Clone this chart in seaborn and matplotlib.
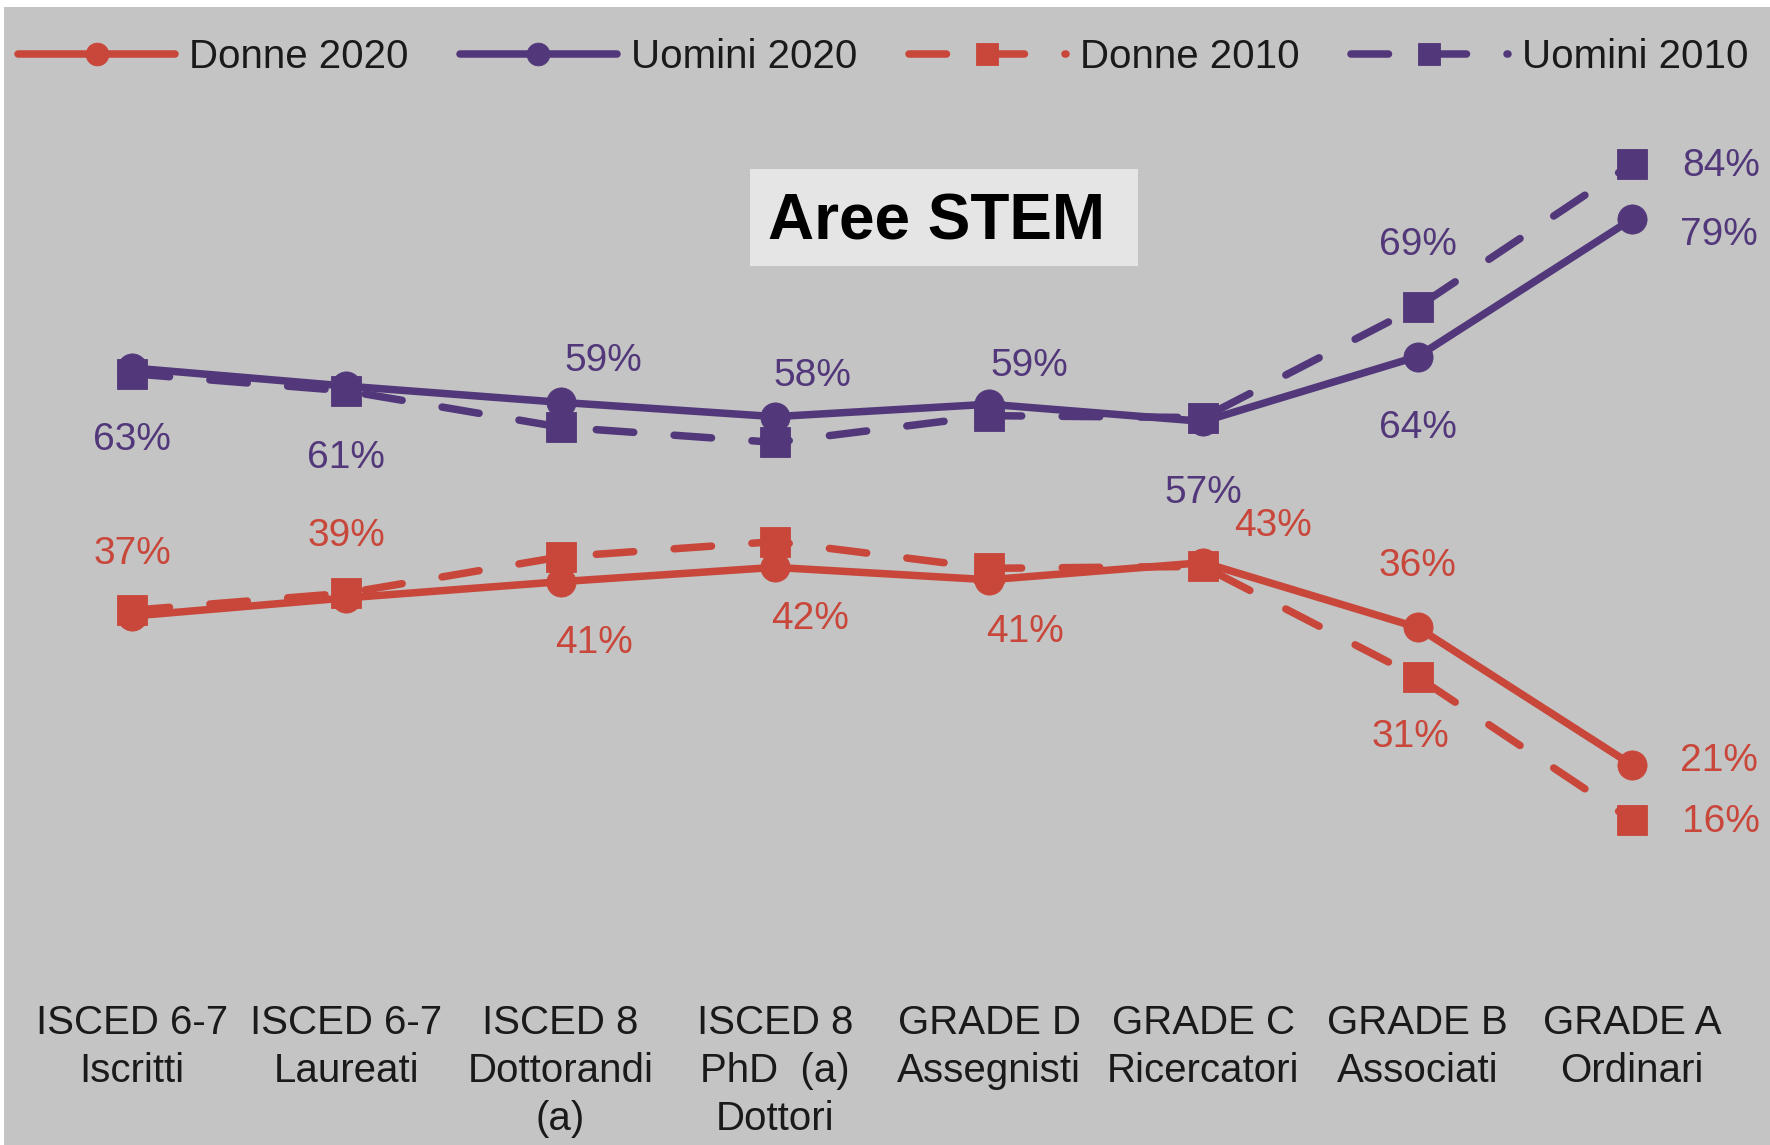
import numpy as np
import pandas as pd
import matplotlib
matplotlib.use("Agg")
import matplotlib.pyplot as plt
from matplotlib.patches import Rectangle
import seaborn as sns

# categorie (asse x) e quote percentuali per genere, area STEM
categories = ["ISCED 6-7\nIscritti", "ISCED 6-7\nLaureati", "ISCED 8\nDottorandi\n(a)",
              "ISCED 8\nPhD  (a)\nDottori", "GRADE D\nAssegnisti", "GRADE C\nRicercatori",
              "GRADE B\nAssociati", "GRADE A\nOrdinari"]
donne_2020 = [37.0, 38.9, 40.6, 42.1, 40.8, 42.6, 35.8, 21.4]
uomini_2020 = [63.0, 61.1, 59.4, 57.9, 59.2, 57.4, 64.2, 78.6]
donne_2010 = [37.6, 39.4, 43.2, 44.8, 42.0, 42.2, 30.6, 15.6]
uomini_2010 = [62.4, 60.6, 56.8, 55.2, 58.0, 57.8, 69.4, 84.4]

RED = "#c9463a"
PURPLE = "#52377a"
BG = "#c3c4c3"
TXT = "#1a1a1a"

sns.set_theme(style="white", rc={"axes.facecolor": BG, "figure.facecolor": BG})
plt.rcParams["font.family"] = ["Liberation Sans", "DejaVu Sans"]

W, H = 1770, 1145
fig = plt.figure(figsize=(W / 100, H / 100), dpi=100)
ax = fig.add_axes([25 / W, 1 - 969 / H, 1714 / W, 954 / H])

x = np.arange(len(categories))
series = [
    ("Donne 2020", donne_2020, RED, "-", "o"),
    ("Uomini 2020", uomini_2020, PURPLE, "-", "o"),
    ("Donne 2010", donne_2010, RED, (0, (5, 5.4)), "s"),
    ("Uomini 2010", uomini_2010, PURPLE, (0, (5, 5.4)), "s"),
]
for name, vals, col, ls, mk in series:
    df = pd.DataFrame({"x": x, "v": vals})
    sns.lineplot(data=df, x="x", y="v", ax=ax, color=col, linestyle=ls, marker=mk,
                 markersize=21, markeredgewidth=0.6, markeredgecolor=col,
                 linewidth=5.4, dash_capstyle="round", solid_capstyle="round",
                 label=name)

# etichette: offset (punti) rispetto al marcatore, None = nessuna etichetta
label_offsets = {
    "Donne 2020": [(0, 46), (0, 46), (24, -43), (25, -36), (26, -36), (50, 28), (0, 46), (63, 4)],
    "Uomini 2020": [(0, -50), (0, -50), (31, 31), (27, 31), (29, 29), (0, -50), (0, -50), (63, -10)],
    "Donne 2010": [None] * 6 + [(-5, -42), (64, 0)],
    "Uomini 2010": [None] * 6 + [(0, 46), (64, 0)],
}
for name, vals, col, ls, mk in series:
    for i, off in enumerate(label_offsets[name]):
        if off is None:
            continue
        ax.annotate(f"{round(vals[i])}%", (i, vals[i]), xytext=(off[0], off[1] - 1.5),
                    textcoords="offset points", ha="center", va="center",
                    color=col, fontsize=28)

ax.set_xlim(-0.5, 7.5)
ax.set_ylim(0, 100)
ax.set_xticks(x)
ax.set_xticklabels(categories, fontsize=29, linespacing=1.32, color=TXT)
ax.tick_params(axis="x", length=0, pad=25.5)
ax.set_yticks([])
ax.set_xlabel("")
ax.set_ylabel("")
for s in ax.spines.values():
    s.set_visible(False)

handles, labels = ax.get_legend_handles_labels()
ax.legend_.remove()
fig.legend(handles, labels, loc="upper left", bbox_to_anchor=(18 / W, 1 - 38 / H),
           ncol=4, frameon=False, fontsize=29, handlelength=3.9, handletextpad=0.35,
           columnspacing=1.27, borderpad=0, borderaxespad=0, markerscale=0.78,
           labelcolor=TXT)

# riquadro titolo
fig.add_artist(Rectangle((750 / W, 1 - 266 / H), 388 / W, 97 / H,
                         transform=fig.transFigure, facecolor="#e5e5e5", edgecolor="none"))
fig.text(937 / W, 1 - 240 / H, "Aree STEM", ha="center", va="baseline",
         fontsize=46, fontweight="bold", color="black")

# bordo bianco in alto e a sinistra
fig.add_artist(Rectangle((0, 1 - 7 / H), 1, 7 / H, transform=fig.transFigure,
                         facecolor="white", edgecolor="none"))
fig.add_artist(Rectangle((0, 0), 4 / W, 1, transform=fig.transFigure,
                         facecolor="white", edgecolor="none"))

fig.savefig("out.png", dpi=100)
